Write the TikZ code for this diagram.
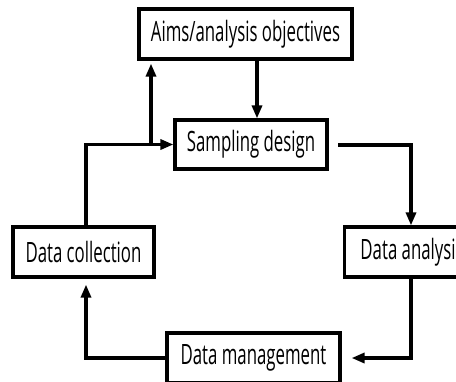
\documentclass[tikz,border=0pt]{standalone}
\usepackage{fontspec}
\newfontfamily\labfont[FakeStretch=0.6]{Open Sans}
\usetikzlibrary{arrows.meta}
\begin{document}
\begin{tikzpicture}[x=1pt,y=-1pt,
  box/.style={draw, line width=3.2pt, inner sep=0pt, font=\labfont\fontsize{28}{28}\selectfont},
  link/.style={line width=3.2pt},
  arr/.style={link, -{Triangle[length=13pt,width=10pt]}}]
\useasboundingbox (0,0) rectangle (456,381);
\clip (0,0) rectangle (456,381);
\node[box, minimum width=213pt, minimum height=50pt] (aims) at (245.5,34) {Aims/analysis objectives};
\node[box, minimum width=152pt, minimum height=49pt] (samp) at (251,144.5) {Sampling design};
\node[box, minimum width=141pt, minimum height=50pt] (dc) at (83.5,252) {Data collection};
\node[box, minimum width=135pt, minimum height=50pt, inner xsep=5pt, anchor=west] (da) at (343,252) {Data analysis};
\node[box, minimum width=173pt, minimum height=50pt] (dm) at (253.5,358) {Data management};
\coordinate (xl) at (86,0);
\coordinate (xb) at (151,0);
\coordinate (xa) at (257,0);
\coordinate (xr) at (411,0);
\coordinate (sr) at (338,145);
\draw[arr] (aims.south -| xa) -- (samp.north -| xa);
\draw[arr] (dc.north -| xl) -- (samp.west -| xl) -- (samp.west);
\draw[arr, shorten >=3pt] (samp.west -| xb) -- (aims.south -| xb);
\draw[arr] (sr) -- (sr -| xr) -- (da.north -| xr);
\draw[arr, shorten >=10pt] (da.south -| xr) -- (dm.east -| xr) -- (dm.east);
\draw[arr, shorten >=6pt] (dm.west) -- (dm.west -| xl) -- (dc.south -| xl);
\end{tikzpicture}
\end{document}
